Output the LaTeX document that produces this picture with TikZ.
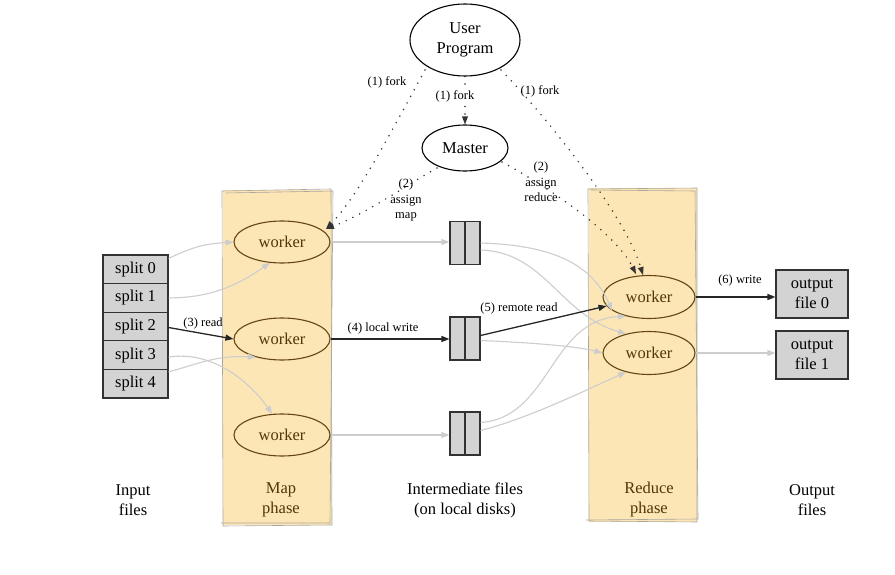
\documentclass[tikz,border=0pt]{standalone}
\usepackage{fontspec}
\setmainfont{Liberation Serif}
\usetikzlibrary{shapes.geometric,arrows.meta}
\definecolor{band}{RGB}{253,230,182}
\definecolor{bandedge}{RGB}{170,165,158}
\definecolor{wedge}{RGB}{100,70,20}
\definecolor{wtext}{RGB}{80,55,10}
\definecolor{boxfill}{RGB}{211,211,211}
\definecolor{boxedge}{RGB}{50,50,50}
\definecolor{lite}{RGB}{205,205,205}
\begin{document}
\begin{tikzpicture}[x=1pt,y=-1pt,
  big/.style={font=\fontsize{16.5}{20}\selectfont},
  small/.style={font=\fontsize{12.5}{15}\selectfont},
  oval/.style={ellipse,draw=black,line width=1.1pt,inner sep=0pt,big,align=center},
  worker/.style={ellipse,draw=wedge,fill=band,line width=1.1pt,minimum width=96pt,minimum height=42pt,inner sep=0pt,big,text=wtext},
  rworker/.style={worker,minimum width=92pt,minimum height=43pt},
  splitbox/.style={rectangle,draw=boxedge,fill=boxfill,line width=1.1pt,minimum width=65pt,minimum height=28.6pt,inner sep=0pt,big},
  filebox/.style={rectangle,draw=boxedge,fill=boxfill,line width=1.1pt,minimum width=30pt,minimum height=43pt,inner sep=0pt},
  outbox/.style={rectangle,draw=boxedge,fill=boxfill,line width=1.1pt,minimum width=72pt,minimum height=48pt,inner sep=0pt,big,align=center},
  tip/.style={-{Triangle[length=8pt,width=6pt]}},
  liteline/.style={draw=lite,line width=1.1pt,tip},
  darkline/.style={draw=black!85,line width=1.3pt,tip},
  dotline/.style={draw=black!80,line width=1.7pt,dash pattern=on 0pt off 7.5pt,line cap=round,-{Triangle[length=8pt,width=6pt,line width=0pt]}},
  lab/.style={small,inner sep=1pt,align=center},
  caption/.style={big,align=center},
  sketch/.style={draw=bandedge,line width=0.6pt},
]
\useasboundingbox (0,0) rectangle (895,575);
% bands
\fill[band] (223,190) rectangle (332,525);
\draw[sketch] (222,191) -- (331,189) -- (332,525) -- (223,526) -- cycle;
\draw[sketch] (226,193) -- (333,191) -- (330,523) -- (221,523);
\fill[band] (589,188) rectangle (697,522);
\draw[sketch] (588,189) -- (697,188) -- (697,522) -- (589,521) -- cycle;
\draw[sketch] (591,190) -- (695,191) -- (698,519) -- (586,520);

% top
\node[oval,minimum width=110pt,minimum height=72pt] (user) at (465,40) {User\\Program};
\node[oval,minimum width=86pt,minimum height=46pt] (master) at (465,148) {Master};

% workers
\node[worker] (mw1) at (282,242) {worker};
\node[worker] (mw2) at (282,339) {worker};
\node[worker] (mw3) at (282,435) {worker};
\node[rworker] (rw1) at (649,297) {worker};
\node[rworker] (rw2) at (649,353) {worker};

% splits
\node[splitbox] (s0) at (135.5,269.3) {split 0};
\node[splitbox] (s1) at (135.5,297.9) {split 1};
\node[splitbox] (s2) at (135.5,326.5) {split 2};
\node[splitbox] (s3) at (135.5,355.1) {split 3};
\node[splitbox] (s4) at (135.5,383.7) {split 4};

% intermediate files
\node[filebox] (f1) at (465,243) {};
\node[filebox] (f2) at (465,338.5) {};
\node[filebox] (f3) at (465,433.5) {};
\foreach \f in {f1,f2,f3} \draw[boxedge,line width=1.1pt] (\f.north) -- (\f.south);

% outputs
\node[outbox] (o0) at (812,294) {output\\file 0};
\node[outbox] (o1) at (812,355) {output\\file 1};

% captions
\node[caption] (c1) at (133,500) {Input\\files};
\node[caption,text=wtext] (c2) at (281,500) {Map\\phase};
\node[caption] (c3) at (465,500) {Intermediate files\\(on local disks)};
\node[caption,text=wtext] (c4) at (649,500) {Reduce\\phase};
\node[caption] (c5) at (812,500) {Output\\files};

% dotted control arrows
\coordinate (uA) at (425,70);
\coordinate (uB) at (501,70);
\coordinate (mA) at (437,168);
\coordinate (mB) at (502,162);
\coordinate (mwin) at (326,229);
\coordinate (rwin1) at (636,274);
\coordinate (rwin2) at (643,275);
\draw[dotline] (uA) .. controls (392,130) and (358,196) .. (mwin);
\draw[dotline] (user) -- (master);
\draw[dotline] (uB) .. controls (545,115) and (625,215) .. (rwin2);
\draw[dotline] (mA) .. controls (402,188) and (365,214) .. (mwin);
\draw[dotline] (mB) .. controls (545,185) and (615,232) .. (rwin1);
\node[lab] (l1) at (387,82) {(1) fork};
\node[lab,fill=white] (l2) at (455,96) {(1) fork};
\node[lab] (l3) at (540,91) {(1) fork};
\node[lab,align=center,font=\fontsize{12.5}{15.5}\selectfont] (l4) at (406,200) {(2)\\assign\\map};
\node[lab,align=center,font=\fontsize{12.5}{15.5}\selectfont] (l5) at (541,182) {(2)\\assign\\reduce};

% splits -> map workers
\draw[liteline] ([yshift=-4pt]s0.north east) .. controls (195,246) and (205,244) .. (mw1.west);
\draw[liteline] (s1.east) .. controls (215,298) and (242,282) .. (mw1.240);
\draw[darkline] ([yshift=-1pt]s2.east) -- (mw2.west);
\node[lab] (l6) at (203,323) {(3) read};
\draw[liteline] ([yshift=-2pt]s3.east) .. controls (215,350) and (252,385) .. (mw3.115);
\draw[liteline] ([yshift=-3pt]s4.north east) .. controls (195,365) and (215,355) .. (mw2.215);

% map workers -> files
\draw[liteline] (mw1.east) -- (f1.west |- mw1.east);
\draw[darkline] (mw2.east) -- (f2.west |- mw2.east);
\node[lab] (l7) at (383,328) {(4) local write};
\draw[liteline] (mw3.east) -- (f3.west |- mw3.east);

% files -> reduce workers
\draw[liteline] ([yshift=0pt]f1.east) .. controls (545,245) and (590,260) .. (rw1.200);
\draw[liteline] ([yshift=-7pt]f1.east) .. controls (545,252) and (560,315) .. (rw2.140);
\draw[darkline] ([yshift=3pt]f2.east) -- (rw1.192);
\node[lab] (l8) at (519,308) {(5) remote read};
\draw[liteline] ([yshift=-2pt]f2.east) .. controls (540,343) and (580,347) .. (rw2.west);
\draw[liteline] ([yshift=11pt]f3.east) .. controls (550,418) and (550,320) .. (rw1.220);
\draw[liteline] ([yshift=3pt]f3.east) .. controls (530,418) and (590,388) .. (rw2.220);

% reduce -> outputs
\draw[darkline] (rw1.east) -- (o0.west |- rw1.east);
\node[lab] (l9) at (740,280) {(6) write};
\draw[liteline] (rw2.east) -- (o1.west |- rw2.east);
\end{tikzpicture}
\end{document}
